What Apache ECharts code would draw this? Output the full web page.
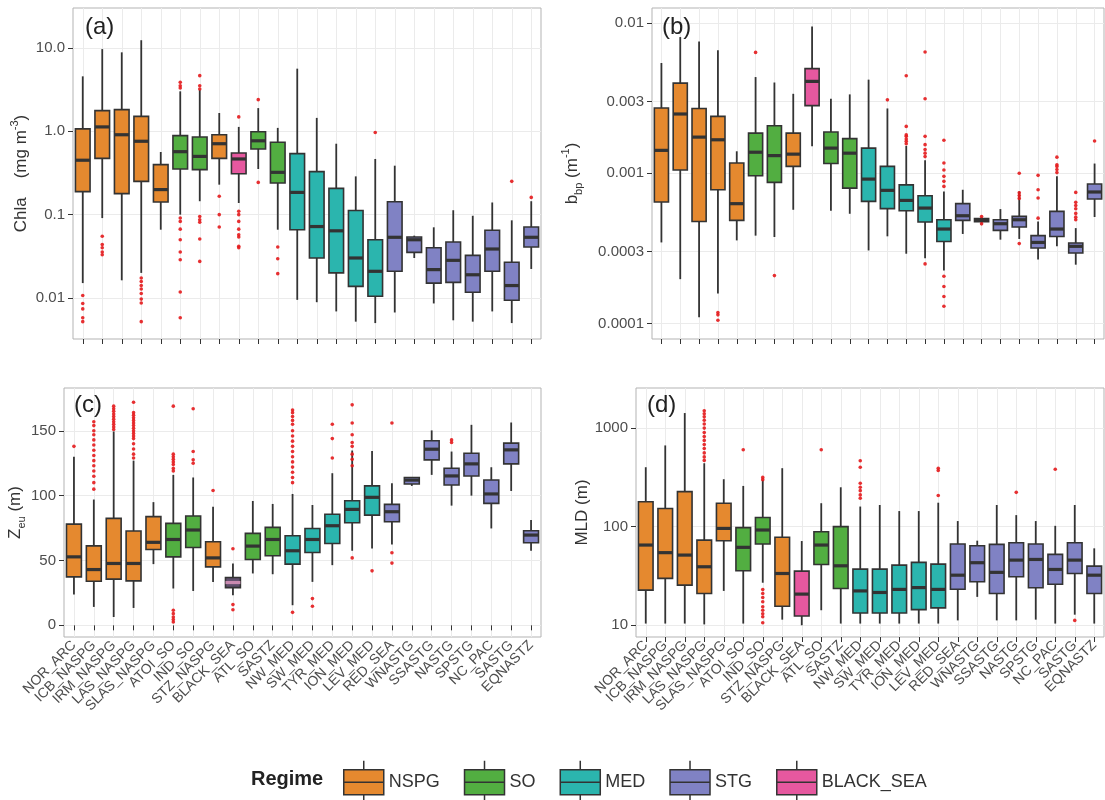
<!DOCTYPE html>
<html>
<head>
<meta charset="utf-8">
<script src="https://cdn.jsdelivr.net/npm/echarts@6/dist/echarts.min.js"></script>
<style>html,body{margin:0;padding:0;background:#fff;}#chart{width:1105px;height:800px;}</style>
</head>
<body>
<div id="chart"></div>
<script>
// ---------- DATA ----------
const categories = ['NOR_ARC','ICB_NASPG','IRM_NASPG','LAS_NASPG','SLAS_NASPG','ATOI_SO','IND_SO','STZ_NASPG','BLACK_SEA','ATL_SO','SASTZ','NW_MED','SW_MED','TYR_MED','ION_MED','LEV_MED','RED_SEA','WNASTG','SSASTG','NASTG','SPSTG','NC_PAC','SASTG','EQNASTZ'];
const regimeOf = ['NSPG','NSPG','NSPG','NSPG','NSPG','SO','SO','NSPG','BLACK_SEA','SO','SO','MED','MED','MED','MED','MED','STG','STG','STG','STG','STG','STG','STG','STG'];
const regimes = ['NSPG','SO','MED','STG','BLACK_SEA'];
const regimeColors = ['#E5892F','#52AE41','#2BB5AE','#8082C4','#E6589F'];

// box stats: [lower whisker, Q1, median, Q3, upper whisker]
const chlStats = [
 [0.0151,0.189,0.45,1.07,4.57],[0.091,0.474,1.13,1.77,9.7],[0.0163,0.179,0.91,1.82,8.87],[0.02,0.251,0.76,1.51,12.4],
 [0.066,0.142,0.2,0.398,0.565],[0.1,0.353,0.57,0.887,3.02],[0.145,0.347,0.5,0.855,3.16],[0.229,0.474,0.71,0.91,1.66],
 [0.138,0.31,0.466,0.55,1.13],[0.353,0.614,0.77,0.99,1.9],[0.066,0.24,0.322,0.74,1.1],[0.0095,0.066,0.185,0.54,5.65],
 [0.0089,0.0302,0.072,0.328,1.45],[0.0069,0.02,0.064,0.207,0.71],[0.0052,0.0138,0.0302,0.112,0.288],[0.005,0.0105,0.0209,0.05,0.466],
 [0.0067,0.0209,0.0535,0.143,0.387],[0.0302,0.0353,0.05,0.054,0.056],[0.0086,0.0151,0.0219,0.04,0.0705],[0.0054,0.0154,0.0283,0.047,0.113],
 [0.0052,0.0117,0.019,0.0325,0.097],[0.0069,0.0209,0.0387,0.065,0.14],[0.005,0.0094,0.0141,0.0268,0.0855],[0.0223,0.041,0.0535,0.071,0.145]
];
const chlOutliers = [
 ['NOR_ARC',[0.0107,0.0086,0.0074,0.0058,0.0052]],
 ['ICB_NASPG',[0.055,0.0437,0.04,0.0356,0.033]],
 ['LAS_NASPG',[0.0174,0.0158,0.0141,0.0128,0.0113,0.0097,0.0087,0.0052]],
 ['ATOI_SO',[3.87,3.53,3.31,0.091,0.083,0.067,0.05,0.0356,0.0288,0.0118,0.0058]],
 ['IND_SO',[4.66,3.53,3.22,0.095,0.087,0.081,0.051,0.0275]],
 ['STZ_NASPG',[0.166,0.1,0.071]],
 ['BLACK_SEA',[1.49,0.11,0.1,0.083,0.067,0.0575,0.054,0.0417,0.04]],
 ['ATL_SO',[2.4,0.244]],
 ['SASTZ',[0.041,0.0296,0.0196]],
 ['LEV_MED',[0.97]],
 ['SASTG',[0.251]],
 ['EQNASTZ',[0.161]]
];

const bbpStats = [
 [0.000346,0.000643,0.00142,0.00272,0.00542],[0.000197,0.00105,0.00248,0.00398,0.00807],[0.00011,0.000477,0.00174,0.0027,0.00755],[0.000158,0.000776,0.00167,0.00239,0.00658],
 [0.000357,0.000485,0.000627,0.00117,0.0014],[0.000384,0.000962,0.00138,0.00185,0.00437],[0.000376,0.000869,0.00131,0.00207,0.00402],[0.000571,0.00111,0.00134,0.00185,0.00338],
 [0.00151,0.00282,0.00409,0.00497,0.0095],[0.000562,0.00116,0.00147,0.00188,0.00313],[0.000537,0.000796,0.00136,0.0017,0.00335],[0.000306,0.000649,0.000914,0.00147,0.0042],
 [0.00038,0.000581,0.000769,0.00111,0.0027],[0.000291,0.000562,0.000659,0.000837,0.00152],[0.000272,0.000473,0.000586,0.000708,0.00122],[0.000225,0.000351,0.000425,0.00049,0.000757],
 [0.000394,0.000485,0.000521,0.000627,0.000776],[0.000464,0.000475,0.00049,0.0005,0.000509],[0.000361,0.000416,0.000461,0.00049,0.000577],[0.000365,0.000438,0.00049,0.000516,0.000757],
 [0.000266,0.000318,0.000346,0.000384,0.000477],[0.000326,0.000379,0.000425,0.000557,0.000953],[0.000246,0.000294,0.000326,0.000343,0.000431],[0.000511,0.000673,0.00075,0.000847,0.00116]
];
const bbpOutliers = [
 ['LAS_NASPG',[0.000118,0.000114,0.000105]],
 ['ATOI_SO',[0.00638]],
 ['IND_SO',[0.000208]],
 ['SW_MED',[0.00308]],
 ['TYR_MED',[0.00446,0.00205,0.0018,0.00176,0.00169,0.00163,0.00157]],
 ['ION_MED',[0.00641,0.00313,0.00176,0.00155,0.00144,0.00136,0.00129,0.000249]],
 ['LEV_MED',[0.00166,0.00117,0.00105,0.000953,0.000883,0.000817,0.000206,0.000176,0.000151,0.00013]],
 ['WNASTG',[0.000515,0.00046]],
 ['NASTG',[0.001,0.00074,0.00071,0.00068,0.00034]],
 ['SPSTG',[0.000968,0.000776,0.000684,0.000502]],
 ['NC_PAC',[0.00128,0.00114,0.00111,0.00106,0.00101]],
 ['SASTG',[0.000745,0.00064,0.00061,0.00058,0.00054,0.00051,0.00049]],
 ['EQNASTZ',[0.00164]]
];

const zeuStats = [
 [23.7,37.4,52.8,78,130],[14.2,34,43,61.3,97],[6.4,35.6,47.7,82.5,149.5],[13.4,34.3,47.7,72.7,127],
 [47.2,58.5,64,83.8,95],[28.4,52.8,66.2,78.6,116],[26.5,60,73.5,84.3,114],[33.5,45.1,52,64.4,91.5],
 [23.2,29.1,33,36.9,47.7],[40,50.8,61.1,70.9,95.9],[39.4,53.6,66.2,75.5,93.6],[15.5,47.2,57.5,69.1,101.3],
 [33.5,56.2,66.2,74.7,92.8],[46.4,63.1,76.8,85.6,117.3],[57.5,79.1,89.4,96.1,134.8],[59.3,85,98.7,107.5,134.5],
 [62.4,79.9,87.6,93.3,109.5],[107.5,109,112,114,114.2],[116,127.6,135.8,142.3,150.3],[92.3,108.2,115.2,121.1,134],
 [100,115.2,124.5,132.7,154.6],[74.7,94,101.3,112.1,121.9],[103.6,124.5,135.3,140.5,156.4],[57.5,63.7,69.6,72.9,81.2]
];
const zeuOutliers = [
 ['NOR_ARC',[138]],
 ['ICB_NASPG',[157,154,150,147,143,139,135,131,127,123,119,115,110,105]],
 ['IRM_NASPG',[169,167,165,163,161,159,157,155,153,151]],
 ['LAS_NASPG',[172,164,162,160,158,156,154,152,150,148,146,144,140,136,132,129]],
 ['ATOI_SO',[169,132,130,128,126,124,121,119,11.6,9,6.4,4.4,2.6]],
 ['IND_SO',[167,134,127.6,125]],
 ['STZ_NASPG',[104]],
 ['BLACK_SEA',[59,16,12]],
 ['NW_MED',[166,164,161,158,155,150,146,142,138,134,130,126,122,118,114,110,10]],
 ['SW_MED',[20.6,14.7]],
 ['TYR_MED',[155,144,129]],
 ['ION_MED',[170,156,147,141,138,132,128,123,52]],
 ['LEV_MED',[42]],
 ['RED_SEA',[156,56,48]],
 ['NASTG',[143,141]]
];

const mldStats = [
 [10.4,22.7,65.1,179,401],[10.4,29.9,54.5,153,667],[10.4,25.5,51.5,227,1421],[10.2,21,39.2,73.1,440],
 [22.3,72.1,96,173,303],[10.4,35.7,61.7,97.7,259],[27,66.7,92.5,124,299],[11.4,15.6,33.5,78,392],
 [10,12.4,20.7,35.4,71.5],[14.2,41.4,65.1,88.9,173],[10.4,23.6,40.1,100,251],[10.4,13.3,22.3,37.1,160],
 [10.4,13.3,21.5,37.1,166],[10.4,13.3,23.1,40.7,144],[10.4,14.4,24.1,43.4,144],[10.4,15,23.1,41.7,175],
 [11.2,23.2,32.2,66.7,114],[19.4,27.6,43.1,64.1,72.1],[11.2,21,34.4,66.1,166],[11.2,31,45.8,68.7,131],
 [11.4,24,46.5,66.7,114],[10.4,26.1,36.8,52.4,102],[12.8,33.5,45.8,68.7,166],[10.4,21,32.2,39.8,60.3]
];
const mldOutliers = [
 ['LAS_NASPG',[1500,1400,1300,1200,1100,1000,900,820,750,680,620,560,510,470]],
 ['ATOI_SO',[603]],
 ['IND_SO',[316,300,23,21,19.1,17.3,15.4,14.2,13.1,12.2,10.6]],
 ['ATL_SO',[603]],
 ['NW_MED',[466,401,276,251,232,210,194]],
 ['LEV_MED',[392,372,207]],
 ['NASTG',[223]],
 ['NC_PAC',[383]],
 ['SASTG',[11.2]]
];

// tick values
const chlTicks = [0.01,0.1,1,10];
const bbpTicks = [0.0001,0.0003,0.001,0.003,0.01];
const zeuTicks = [0,50,100,150];
const mldTicks = [10,100,1000];

// ---------- BUILD ----------
const FONT = 'Liberation Sans, Arial, Helvetica, sans-serif';
const chart = echarts.init(document.getElementById('chart'), null, {renderer:'canvas'});
const colorOfCat = regimeOf.map(r => regimeColors[regimes.indexOf(r)]);
// panel (c) shows the BLACK_SEA box in a dark tone
const panelFillOverride = {2:{8:{fill:'#5f4f6c', median:'#c98ab0'}}};

function boxData(stats){ return stats.map((s,i)=>[i].concat(s)); }
function outlierData(list){
  const out=[];
  list.forEach(([cat,vals])=>{ const i=categories.indexOf(cat); vals.forEach(v=>out.push([i,v])); });
  return out;
}
function makeRenderBox(gi){
  return function(params, api){
    const x = api.value(0);
    const lo = api.coord([x, api.value(1)]);
    const q1 = api.coord([x, api.value(2)]);
    const md = api.coord([x, api.value(3)]);
    const q3 = api.coord([x, api.value(4)]);
    const hi = api.coord([x, api.value(5)]);
    const w = api.size([1,0],[x,1])[0]*0.75;
    const cx = md[0];
    const ov = (panelFillOverride[gi]||{})[params.dataIndex];
    const fill = ov ? ov.fill : colorOfCat[params.dataIndex];
    const stroke = '#333333';
    const medStroke = ov ? ov.median : stroke;
    return {type:'group', children:[
      {type:'line', shape:{x1:cx,y1:lo[1],x2:cx,y2:q1[1]}, style:{stroke, lineWidth:1.8}},
      {type:'line', shape:{x1:cx,y1:q3[1],x2:cx,y2:hi[1]}, style:{stroke, lineWidth:1.8}},
      {type:'rect', shape:{x:cx-w/2,y:q3[1],width:w,height:Math.max(q1[1]-q3[1],1)}, style:{fill, stroke, lineWidth:1.6}},
      {type:'line', shape:{x1:cx-w/2,y1:md[1],x2:cx+w/2,y2:md[1]}, style:{stroke:medStroke, lineWidth:3.2}}
    ]};
  };
}
function xAxis(gi, showLabels){
  return {type:'category', gridIndex:gi, data:categories, boundaryGap:true,
    axisLine:{show:false},
    axisTick:{show:true, alignWithLabel:true, interval:0, length:5, lineStyle:{color:'#333', width:1}},
    axisLabel:{show:showLabels, interval:0, rotate:45, fontSize:14, color:'#4d4d4d', margin:6, fontFamily:FONT},
    splitLine:{show:true, alignWithLabel:true, interval:0, lineStyle:{color:'#ebebeb', width:1}}
  };
}
function fmtNum(v){ return String(Number(Number(v).toPrecision(6))); }
function yAxis(gi, type, min, max, ticks, fmt, name, nameGap, rich){
  return {type, gridIndex:gi, min, max,
    axisLine:{show:false},
    axisTick:{show:true, length:5, customValues:ticks, lineStyle:{color:'#333', width:1}},
    axisLabel:{customValues:ticks, fontSize:15, color:'#4d4d4d', margin:8, fontFamily:FONT, formatter:fmt},
    splitLine:{show:true, lineStyle:{color:'#ebebeb', width:1}},
    minorSplitLine:{show:false},
    name, nameLocation:'middle', nameGap, nameRotate:90,
    nameTextStyle:{fontSize:17, color:'#333', fontFamily:FONT, rich}
  };
}
const richBase = {
  n:{fontSize:17, color:'#333', fontFamily:FONT, lineHeight:24},
  s:{fontSize:11, color:'#333', fontFamily:FONT, lineHeight:12, verticalAlign:'top'},
  b:{fontSize:11, color:'#333', fontFamily:FONT, lineHeight:12, verticalAlign:'bottom'}
};
const boxIcon = 'path://M20,0L20,9M0,9L40,9L40,34L0,34ZM0,21.5L40,21.5M20,34L20,43';

const grids = [
  {left:73, top:8, width:468, height:331},
  {left:652, top:8, width:452, height:331},
  {left:64, top:388, width:477, height:249},
  {left:636, top:388, width:468, height:249}
].map(g=>Object.assign({show:true, borderColor:'#b3b3b3', borderWidth:1, backgroundColor:'#fff', containLabel:false, outerBoundsMode:'none'}, g));

const panels = [
  {stats:chlStats, outl:chlOutliers},
  {stats:bbpStats, outl:bbpOutliers},
  {stats:zeuStats, outl:zeuOutliers},
  {stats:mldStats, outl:mldOutliers}
];
const series = [];
panels.forEach((p,gi)=>{
  series.push({type:'custom', name:'box'+gi, xAxisIndex:gi, yAxisIndex:gi, renderItem:makeRenderBox(gi),
    encode:{x:0, y:[1,2,3,4,5]}, data:boxData(p.stats), z:2, silent:true});
  series.push({type:'scatter', name:'out'+gi, xAxisIndex:gi, yAxisIndex:gi, data:outlierData(p.outl),
    symbolSize:3.6, itemStyle:{color:'#e41a1c', opacity:0.9}, z:3, silent:true});
});
regimes.forEach((r,i)=>{
  series.push({type:'scatter', name:r, xAxisIndex:0, yAxisIndex:0, data:[],
    itemStyle:{color:regimeColors[i], opacity:1, borderColor:'#333', borderWidth:1.5}});
});

const option = {
  backgroundColor:'#fff',
  animation:false,
  textStyle:{fontFamily:FONT},
  title:[
    {text:'(a)', left:80, top:10, textStyle:{fontSize:24, fontWeight:'normal', color:'#222', fontFamily:FONT}},
    {text:'(b)', left:657, top:10, textStyle:{fontSize:24, fontWeight:'normal', color:'#222', fontFamily:FONT}},
    {text:'(c)', left:69, top:388, textStyle:{fontSize:24, fontWeight:'normal', color:'#222', fontFamily:FONT}},
    {text:'(d)', left:642, top:388, textStyle:{fontSize:24, fontWeight:'normal', color:'#222', fontFamily:FONT}},
    {text:'Regime', left:246, top:764, textStyle:{fontSize:20, fontWeight:'bold', color:'#222', fontFamily:FONT}}
  ],
  legend:{left:338, top:755, itemWidth:40, itemHeight:43, itemGap:24, selectedMode:false, symbolKeepAspect:false,
    data:regimes.map(r=>({name:r, icon:boxIcon})),
    itemStyle:{borderColor:'#333', borderWidth:1.5, opacity:1},
    textStyle:{fontSize:18, color:'#333', fontFamily:FONT}},
  grid:grids,
  xAxis:[xAxis(0,false), xAxis(1,false), xAxis(2,true), xAxis(3,true)],
  yAxis:[
    yAxis(0,'log',0.00322,30.2,chlTicks, v=> v>=1 ? Number(v).toFixed(1) : fmtNum(v),
      '{n|Chla    (mg m}{s|-3}{n|)}', 40, richBase),
    yAxis(1,'log',0.0000787,0.0126,bbpTicks, v=>fmtNum(v),
      '{n|b}{b|bp}{n| (m}{s|-1}{n|)}', 68, richBase),
    yAxis(2,'value',-9,183,zeuTicks, v=>fmtNum(v),
      '{n|Z}{b|eu}{n| (m)}', 34, richBase),
    yAxis(3,'log',7.6,2551,mldTicks, v=>fmtNum(v),
      '{n|MLD (m)}', 40, richBase)
  ],
  series
};
chart.setOption(option);
</script>
</body>
</html>
